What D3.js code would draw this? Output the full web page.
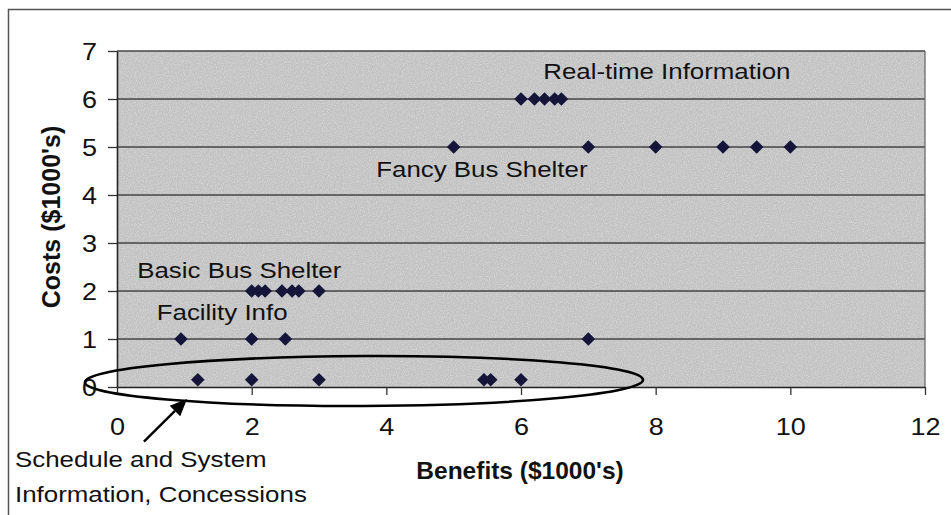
<!DOCTYPE html>
<html>
<head>
<meta charset="utf-8">
<script src="https://cdn.jsdelivr.net/npm/d3@7"></script>
<style>
  html, body { margin: 0; padding: 0; background: #ffffff; }
  svg { display: block; }
  text { font-family: "Liberation Sans", Arial, Helvetica, sans-serif; fill: #111; }
</style>
</head>
<body>
<svg id="chart" width="951" height="515"></svg>
<script>
// Benefit / cost pairs ($1000's), one pair of arrays per improvement group
const realTimeBenefits      = [6.0, 6.2, 6.35, 6.5, 6.6];
const realTimeCosts         = [6, 6, 6, 6, 6];
const fancyShelterBenefits  = [5, 7, 8, 9, 9.5, 10];
const fancyShelterCosts     = [5, 5, 5, 5, 5, 5];
const basicShelterBenefits  = [2.0, 2.1, 2.2, 2.45, 2.6, 2.7, 3.0];
const basicShelterCosts     = [2, 2, 2, 2, 2, 2, 2];
const facilityInfoBenefits  = [0.95, 2, 2.5, 7];
const facilityInfoCosts     = [1, 1, 1, 1];
const scheduleBenefits      = [1.2, 2, 3, 5.45, 5.55, 6];
const scheduleCosts         = [0.15, 0.15, 0.15, 0.15, 0.15, 0.15];

const xTicks = [0, 2, 4, 6, 8, 10, 12];
const yTicks = [0, 1, 2, 3, 4, 5, 6, 7];

const xTitle = "Benefits ($1000's)";
const yTitle = "Costs ($1000's)";

// Group labels, anchored in data units (left edge, baseline)
const groupLabels = [
  { text: "Real-time Information", bx: 6.33, cy: 6.42 },
  { text: "Fancy Bus Shelter",     bx: 3.85, cy: 4.38 },
  { text: "Basic Bus Shelter",     bx: 0.30, cy: 2.27 },
  { text: "Facility Info",         bx: 0.59, cy: 1.40 }
];
const calloutLines = ["Schedule and System", "Information, Concessions"];

const svg = d3.select("#chart");
const W = 951, H = 515;
const plot = { left: 117, top: 51, right: 925, bottom: 387 };
const stretch = 1.15;   // regular labels are set slightly wide

const x = d3.scaleLinear().domain([0, 12]).range([plot.left, plot.right]);
const y = d3.scaleLinear().domain([0, 7]).range([plot.bottom, plot.top]);

// outer frame (top and left edges visible)
svg.append("path")
  .attr("d", `M8.5,${H} L8.5,9.5 L${W},9.5`)
  .attr("fill", "none").attr("stroke", "#555").attr("stroke-width", 1.5);

// grainy grey plot background
const defs = svg.append("defs");
const grain = defs.append("filter").attr("id", "grain")
  .attr("x", 0).attr("y", 0).attr("width", "100%").attr("height", "100%");
grain.append("feTurbulence").attr("type", "fractalNoise")
  .attr("baseFrequency", 0.85).attr("numOctaves", 2).attr("seed", 3).attr("result", "noise");
grain.append("feColorMatrix").attr("in", "noise").attr("type", "matrix")
  .attr("values", "0 0 0 0 1  0 0 0 0 1  0 0 0 0 1  1.6 0 0 0 -0.62")
  .attr("result", "dots");
grain.append("feComposite").attr("in", "dots").attr("in2", "SourceGraphic").attr("operator", "in");

svg.append("rect")
  .attr("x", plot.left).attr("y", plot.top)
  .attr("width", plot.right - plot.left).attr("height", plot.bottom - plot.top)
  .attr("fill", "#c2c2c2");
svg.append("rect")
  .attr("x", plot.left).attr("y", plot.top)
  .attr("width", plot.right - plot.left).attr("height", plot.bottom - plot.top)
  .attr("fill", "#c2c2c2").attr("filter", "url(#grain)").attr("opacity", 0.45);

// horizontal gridlines
svg.append("g").selectAll("line")
  .data(yTicks.filter(d => d > 0))
  .join("line")
  .attr("x1", plot.left).attr("x2", plot.right)
  .attr("y1", d => y(d)).attr("y2", d => y(d))
  .attr("stroke", "#454545").attr("stroke-width", 1.4);

// right edge of plot area
svg.append("line")
  .attr("x1", plot.right).attr("x2", plot.right)
  .attr("y1", plot.top).attr("y2", plot.bottom)
  .attr("stroke", "#6a6a6a").attr("stroke-width", 1.3);

// axes
const yAxis = svg.append("g")
  .attr("transform", `translate(${plot.left},0)`)
  .call(d3.axisLeft(y).tickValues(yTicks).tickSize(9).tickSizeOuter(0).tickFormat(d3.format("d")));
const xAxis = svg.append("g")
  .attr("transform", `translate(0,${plot.bottom})`)
  .call(d3.axisBottom(x).tickValues(xTicks).tickSize(8).tickSizeOuter(0).tickFormat(d3.format("d")));

[yAxis, xAxis].forEach(ax => {
  ax.select(".domain").attr("stroke", "#222").attr("stroke-width", 1.6);
  ax.selectAll(".tick line").attr("stroke", "#333").attr("stroke-width", 1.3);
  ax.selectAll(".tick text")
    .style("font-family", "'Liberation Sans', Arial, sans-serif")
    .attr("font-size", 23.5).attr("fill", "#111");
});
yAxis.selectAll(".tick text")
  .attr("x", -20 / stretch).attr("dy", "0.36em")
  .attr("transform", `scale(${stretch},1)`);
xAxis.selectAll(".tick text")
  .attr("y", 48).attr("dy", 0)
  .attr("transform", `scale(${stretch},1)`);

// axis titles
svg.append("text")
  .attr("x", (plot.left + plot.right) / 2 - 1).attr("y", 479)
  .attr("text-anchor", "middle")
  .attr("font-size", 24.5).attr("font-weight", "bold")
  .text(xTitle);
svg.append("text")
  .attr("transform", `translate(60,${(plot.top + plot.bottom) / 2 - 2}) rotate(-90)`)
  .attr("text-anchor", "middle")
  .attr("font-size", 25).attr("font-weight", "bold")
  .text(yTitle);

// diamond markers
const diamond = {
  draw(ctx, size) {
    const r = Math.sqrt(size / 2);
    ctx.moveTo(0, -r); ctx.lineTo(r, 0); ctx.lineTo(0, r); ctx.lineTo(-r, 0); ctx.closePath();
  }
};
const groups = [
  [realTimeBenefits, realTimeCosts],
  [fancyShelterBenefits, fancyShelterCosts],
  [basicShelterBenefits, basicShelterCosts],
  [facilityInfoBenefits, facilityInfoCosts],
  [scheduleBenefits, scheduleCosts]
];
const points = groups.flatMap(([bs, cs]) => bs.map((b, i) => ({ b, c: cs[i] })));
svg.append("g").selectAll("path")
  .data(points)
  .join("path")
  .attr("transform", d => `translate(${x(d.b)},${y(d.c)})`)
  .attr("d", d3.symbol(diamond, 2 * 6.8 * 6.8))
  .attr("fill", "#15153a");

// group labels inside the plot
svg.append("g").selectAll("text")
  .data(groupLabels)
  .join("text")
  .attr("transform", d => `translate(${x(d.bx)},${y(d.cy)}) scale(${stretch},1)`)
  .attr("font-size", 22.5)
  .text(d => d.text);

// ellipse circling the low-cost group
const ell = { cx: 3.668, cy: 0.125, rx: 4.144, ry: 0.52 };
svg.append("ellipse")
  .attr("cx", x(ell.cx)).attr("cy", y(ell.cy))
  .attr("rx", x(ell.rx) - x(0)).attr("ry", y(0) - y(ell.ry))
  .attr("transform", `rotate(-0.25,${x(ell.cx)},${y(ell.cy)})`)
  .attr("fill", "none").attr("stroke", "#000").attr("stroke-width", 2.6);

// callout arrow and its text
const tail = [x(0.40), y(-1.14)], tip = [x(1.04), y(-0.25)];
const ang = Math.atan2(tip[1] - tail[1], tip[0] - tail[0]);
const headLen = 17, headHalf = 7.5;
const base = [tip[0] - headLen * Math.cos(ang), tip[1] - headLen * Math.sin(ang)];
svg.append("line")
  .attr("x1", tail[0]).attr("y1", tail[1]).attr("x2", base[0]).attr("y2", base[1])
  .attr("stroke", "#000").attr("stroke-width", 2.4);
svg.append("path")
  .attr("d", d3.line()([
    tip,
    [base[0] + headHalf * Math.sin(ang), base[1] - headHalf * Math.cos(ang)],
    [base[0] - headHalf * Math.sin(ang), base[1] + headHalf * Math.cos(ang)]
  ]) + "Z")
  .attr("fill", "#000");

svg.append("g").selectAll("text")
  .data(calloutLines)
  .join("text")
  .attr("transform", (d, i) => `translate(15,${467 + i * 35}) scale(${stretch},1)`)
  .attr("font-size", 22.5)
  .text(d => d);
</script>
</body>
</html>
